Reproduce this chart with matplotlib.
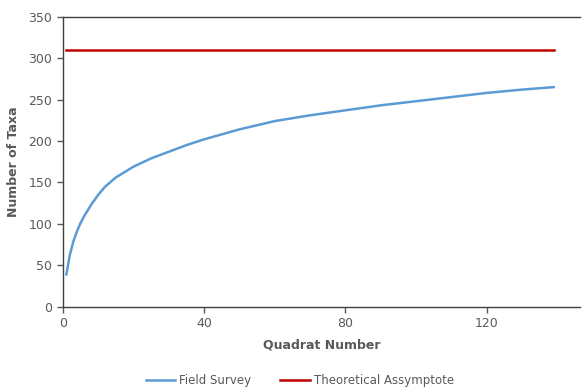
import matplotlib.pyplot as plt

# Species accumulation curve
quadrat = [1, 2, 3, 4, 5, 6, 7, 8, 9, 10, 12, 15, 20, 25, 30, 35, 40,
           50, 60, 70, 80, 90, 100, 110, 120, 130, 139]
taxa = [39, 63, 79, 91, 101, 109, 116, 123, 129, 135, 145, 156, 169, 179, 187,
        195, 202, 214, 224, 231, 237, 243, 248, 253, 258, 262, 265]
asymptote_x = [1, 139]
asymptote_y = [310, 310]

grey = '#595959'
plt.rcParams['font.family'] = 'DejaVu Sans'

fig = plt.figure(figsize=(5.82, 3.9), dpi=100)
ax = fig.add_axes([0.108, 0.2136, 0.889, 0.7436])

ax.plot(quadrat, taxa, color='#5B9BD5', lw=1.8, label='Field Survey')
ax.plot(asymptote_x, asymptote_y, color='#C00000', lw=1.8,
        label='Theoretical Assymptote')

ax.set_xlim(0, 146.5)
ax.set_ylim(0, 350)
ax.set_xticks([0, 40, 80, 120])
ax.set_yticks(range(0, 351, 50))
ax.tick_params(colors=grey, labelsize=9, length=4, width=1)
for side in ['left', 'bottom', 'top']:
    ax.spines[side].set_color('#404040')
    ax.spines[side].set_linewidth(1)
ax.spines['right'].set_visible(False)

ax.set_xlabel('Quadrat Number', fontsize=9, fontweight='bold', color=grey,
              labelpad=6)
ax.set_ylabel('Number of Taxa', fontsize=9, fontweight='bold', color=grey,
              labelpad=6)

fig.legend(loc='center', bbox_to_anchor=(0.515, 0.025), ncol=2, frameon=False,
           fontsize=8.5, labelcolor=grey, handlelength=2.5, columnspacing=2.5,
           handletextpad=0.3)

fig.savefig('out.png', dpi=100)
